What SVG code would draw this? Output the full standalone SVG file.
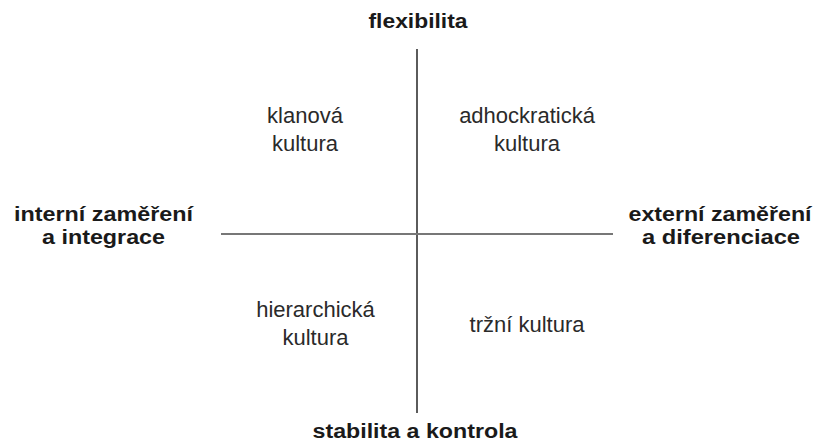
<svg xmlns="http://www.w3.org/2000/svg" width="817" height="446" viewBox="0 0 817 446">
<style>
.b{font-family:"Liberation Sans",Arial,sans-serif;font-weight:bold;font-size:20px;fill:#1a1a1a;text-anchor:middle}
.r{font-family:"Liberation Sans",Arial,sans-serif;font-size:22px;fill:#2a2a2a;text-anchor:middle}
.v{stroke:#333;stroke-width:1.6}
.h{stroke:#777;stroke-width:2}
</style>
<rect width="817" height="446" fill="#fff"/>
<g id="connectors">
<line class="v" x1="417" y1="49" x2="417" y2="413"/>
<line class="h" x1="221" y1="234" x2="613" y2="234"/>
</g>
<g id="flexibilita"><text class="b" x="418" y="28" textLength="99" lengthAdjust="spacingAndGlyphs">flexibilita</text></g>
<g id="stabilita"><text class="b" x="415" y="438" textLength="205" lengthAdjust="spacingAndGlyphs">stabilita a kontrola</text></g>
<g id="interni"><text class="b" x="103.5" y="221" textLength="179" lengthAdjust="spacingAndGlyphs">interní zaměření</text><text class="b" x="103.5" y="244" textLength="123" lengthAdjust="spacingAndGlyphs">a integrace</text></g>
<g id="externi"><text class="b" x="720" y="221" textLength="183" lengthAdjust="spacingAndGlyphs">externí zaměření</text><text class="b" x="721" y="244" textLength="158" lengthAdjust="spacingAndGlyphs">a diferenciace</text></g>
<g id="klanova"><text class="r" x="305" y="123">klanová</text><text class="r" x="305" y="151">kultura</text></g>
<g id="adhokraticka"><text class="r" x="527" y="123">adhockratická</text><text class="r" x="527" y="151">kultura</text></g>
<g id="hierarchicka"><text class="r" x="315.5" y="317">hierarchická</text><text class="r" x="315.5" y="345">kultura</text></g>
<g id="trzni"><text class="r" x="527" y="332">tržní kultura</text></g>
</svg>
